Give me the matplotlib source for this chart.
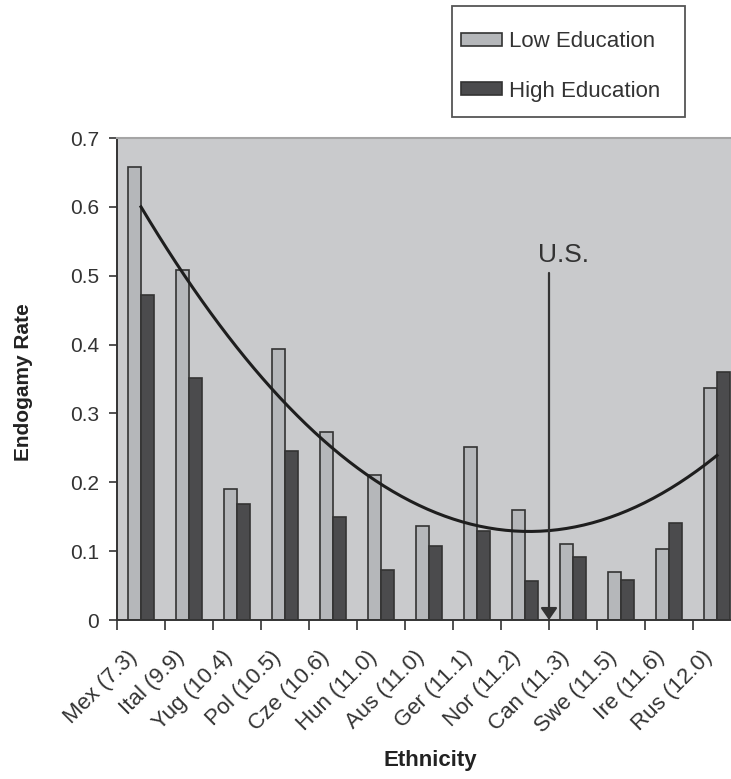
import matplotlib
matplotlib.use('Agg')
import matplotlib.pyplot as plt
import numpy as np
from matplotlib.patches import Patch, Rectangle

plt.rcParams['font.family'] = ['Liberation Sans', 'DejaVu Sans']

# data
groups = ['Mex (7.3)', 'Ital (9.9)', 'Yug (10.4)', 'Pol (10.5)', 'Cze (10.6)',
          'Hun (11.0)', 'Aus (11.0)', 'Ger (11.1)', 'Nor (11.2)', 'Can (11.3)',
          'Swe (11.5)', 'Ire (11.6)', 'Rus (12.0)']
low_edu = [0.658, 0.508, 0.190, 0.394, 0.273, 0.210, 0.137, 0.251, 0.160, 0.111, 0.070, 0.103, 0.337]
high_edu = [0.472, 0.351, 0.169, 0.246, 0.149, 0.073, 0.107, 0.129, 0.056, 0.091, 0.058, 0.141, 0.360]
trend_coef = [0.00721, -0.1166, 0.600]   # quadratic trend over category index
us_pos = 8.5
us_top = 0.504

ind = np.arange(len(groups))
width = 0.28

fig = plt.figure(figsize=(7.31, 7.79), dpi=100)
ax = fig.add_axes([117/731, 1-620/779, 624/731, 482/779])
ax.set_facecolor('#c9cacc')

ax.bar(ind - width/2, low_edu, width, color='#b5b7ba', edgecolor='#333333', linewidth=1.2)
ax.bar(ind + width/2, high_edu, width, color='#4b4b4d', edgecolor='#333333', linewidth=1.2)

xs = np.linspace(0, len(groups) - 1, 200)
ax.plot(xs, np.polyval(trend_coef, xs), color='#1e1e1e', lw=2.2)

# U.S. marker
ax.annotate('', xy=(us_pos, 0), xytext=(us_pos, us_top),
            arrowprops=dict(arrowstyle='-|>,head_length=0.36,head_width=0.25',
                            mutation_scale=20, color='#333333', lw=1.6,
                            shrinkA=0, shrinkB=0))
ax.text(us_pos - 0.23, us_top + 0.026, 'U.S.', fontsize=19, color='#333333',
        ha='left', va='center')

ax.set_xlim(-0.5, len(groups) - 0.5)
ax.set_ylim(0, 0.7)
ax.set_yticks(np.arange(0, 0.71, 0.1))
ax.set_yticklabels(['%g' % round(v, 1) for v in np.arange(0, 0.71, 0.1)])
ax.set_xticks(ind)
ax.set_xticklabels(groups, rotation=45, ha='right', va='bottom', rotation_mode='anchor')
ax.set_xticks(np.arange(-0.5, len(groups) - 0.5, 1), minor=True)
ax.tick_params(axis='x', which='major', length=0, pad=30, labelsize=16, labelcolor='#333333')
ax.tick_params(axis='x', which='minor', length=7, width=1.2, color='#333333', direction='out')
ax.tick_params(axis='y', length=6, width=1.2, color='#333333', labelsize=15, labelcolor='#333333', pad=7)

for s in ['left', 'bottom']:
    ax.spines[s].set_color('#333333')
    ax.spines[s].set_linewidth(1.4)
ax.spines['top'].set_color('#a5a5a5')
ax.spines['top'].set_linewidth(1.5)
ax.spines['right'].set_visible(False)

ax.set_ylabel('Endogamy Rate', fontsize=15, fontweight='bold', color='#222222')
ax.yaxis.set_label_coords(-0.135, 0.494)
ax.set_xlabel('Ethnicity', fontsize=16, fontweight='bold', color='#222222')
ax.xaxis.set_label_coords(0.5016, -0.27)

handles = [Patch(facecolor='#b5b7ba', edgecolor='#333333', lw=1.2),
           Patch(facecolor='#4b4b4d', edgecolor='#333333', lw=1.2)]
leg = fig.legend(handles, ['Low Education', 'High Education'], loc='center left',
                 bbox_to_anchor=(461/731, 1-66.5/779), fontsize=16, frameon=False,
                 handlelength=1.85, handleheight=0.54, handletextpad=0.32,
                 labelspacing=1.28, borderpad=0, borderaxespad=0)
for t in leg.get_texts():
    t.set_color('#333333')
fig.patches.append(Rectangle((452/731, 1-117/779), 233/731, 111/779,
                             transform=fig.transFigure, fill=False,
                             edgecolor='#555555', lw=1.3))

fig.savefig('out.png', dpi=100, facecolor='white')
